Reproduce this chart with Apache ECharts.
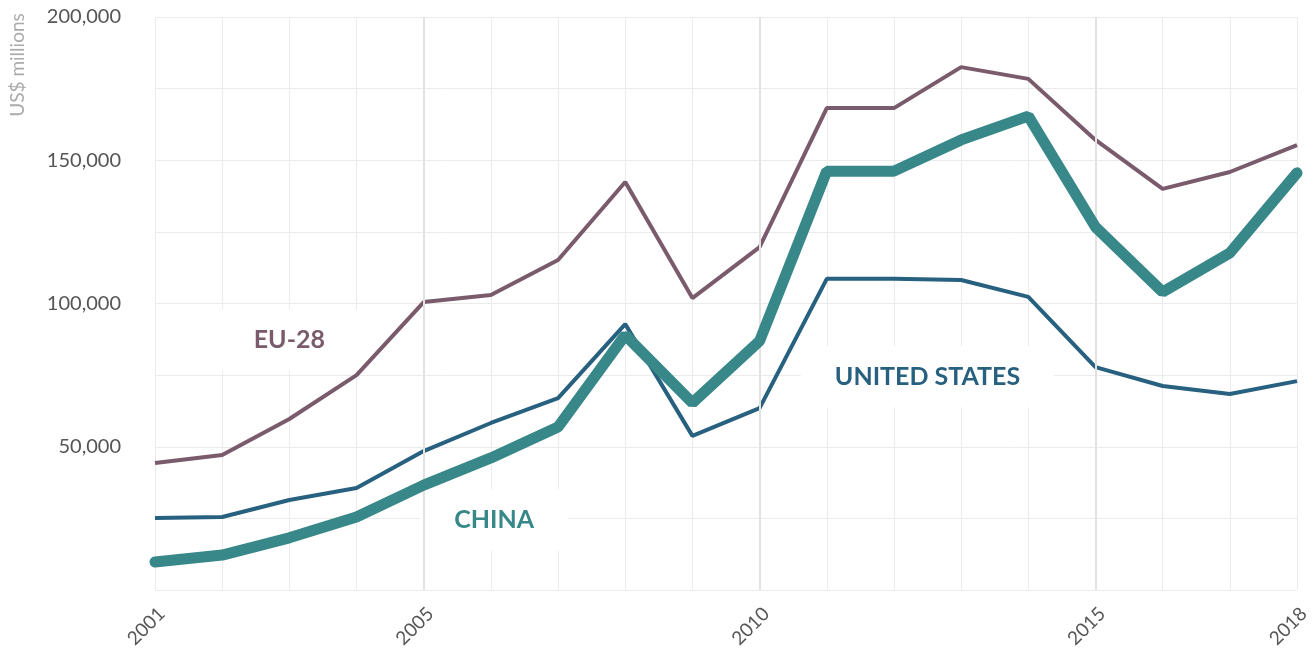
<!DOCTYPE html>
<html>
<head>
<meta charset="utf-8">
<title>EU-28, United States, China</title>
<script src="https://cdn.jsdelivr.net/npm/echarts@6/dist/echarts.min.js"></script>
<style>
    html, body { margin: 0; padding: 0; background: #fff; }
    #chart { width: 1314px; height: 653px; }
</style>
</head>
<body>
<div id="chart"></div>
<script>
// 数据
var years = [2001, 2002, 2003, 2004, 2005, 2006, 2007, 2008, 2009, 2010, 2011, 2012, 2013, 2014, 2015, 2016, 2017, 2018];
var eu28 = [44300, 47100, 59700, 75000, 100500, 103000, 115200, 142400, 101900, 119700, 168200, 168200, 182500, 178400, 157100, 140000, 145900, 155300];
var unitedStates = [25100, 25500, 31400, 35600, 48500, 58300, 67000, 92800, 53800, 63500, 108600, 108600, 108200, 102300, 77800, 71200, 68400, 72900];
var china = [9800, 12200, 18200, 25500, 36600, 46100, 56900, 89000, 65300, 86900, 146200, 146200, 157100, 165400, 126700, 104000, 117600, 145600];

var labelYears = [2001, 2005, 2010, 2015, 2018];   // x 轴显示的年份
var majorYears = [2005, 2010, 2015];               // 深色竖线

// 系列名称标签（数据坐标）
var tagNames = ['EU-28', 'UNITED STATES', 'CHINA'];
var tagX = [2003, 2012.5, 2006.05];
var tagY = [87300, 74400, 24400];

var colors = {eu: '#7a5b6b', us: '#27617f', cn: '#38888a'};
var tagColors = [colors.eu, colors.us, colors.cn];

function pairs(arr){
    return years.map(function(y, i){ return [y, arr[i]]; });
}

var myChart = echarts.init(document.getElementById('chart'));

var option = {
    animation: false,
    backgroundColor: '#fff',
    grid: {left: 155, right: 17, top: 17, bottom: 63},
    graphic: [{
        type: 'text',
        x: 18, y: 65,
        rotation: Math.PI / 2,
        style: {
            text: 'US$ millions',
            fill: '#ababab',
            font: '19px Lato',
            align: 'center',
            verticalAlign: 'middle'
        }
    }],
    xAxis: {
        type: 'value',
        min: 2001,
        max: 2018,
        interval: 1,
        axisLine: {show: false},
        axisTick: {show: false},
        splitLine: {show: true, lineStyle: {color: '#ebebeb', width: 1}},
        axisLabel: {
            rotate: 45,
            margin: 14,
            verticalAlign: 'top',
            color: '#555',
            fontSize: 19,
            fontFamily: 'Lato',
            showMinLabel: true,
            showMaxLabel: true,
            formatter: function(v){
                return labelYears.indexOf(v) > -1 ? String(v) : '';
            }
        }
    },
    yAxis: {
        type: 'value',
        min: 0,
        max: 200000,
        interval: 25000,
        axisLine: {show: false},
        axisTick: {show: false},
        splitLine: {show: true, lineStyle: {color: '#ebebeb', width: 1}},
        axisLabel: {
            margin: 34,
            color: '#555',
            fontSize: 20,
            fontFamily: 'Lato',
            formatter: function(v){
                if (v === 0 || v % 50000 !== 0) return '';
                return v.toLocaleString('en-US');
            }
        }
    },
    series: [
        {
            // 每五年深色竖线
            type: 'line',
            data: [],
            z: 1,
            silent: true,
            markLine: {
                silent: true,
                symbol: ['none', 'none'],
                label: {show: false},
                lineStyle: {color: '#e2e2e2', width: 2, type: 'solid'},
                data: majorYears.map(function(y){ return {xAxis: y}; })
            }
        },
        {
            name: 'EU-28',
            type: 'line',
            data: pairs(eu28),
            showSymbol: false,
            z: 3,
            lineStyle: {color: colors.eu, width: 4}
        },
        {
            name: 'United States',
            type: 'line',
            data: pairs(unitedStates),
            showSymbol: false,
            z: 4,
            lineStyle: {color: colors.us, width: 4}
        },
        {
            name: 'China',
            type: 'line',
            data: pairs(china),
            showSymbol: false,
            z: 5,
            lineStyle: {color: colors.cn, width: 11, cap: 'round'}
        },
        {
            // 系列名称，白底盖住网格线
            type: 'scatter',
            symbolSize: 0,
            z: 2,
            silent: true,
            itemStyle: {opacity: 1},
            data: tagNames.map(function(n, i){
                return {
                    name: n,
                    value: [tagX[i], tagY[i]],
                    label: {color: tagColors[i]}
                };
            }),
            label: {
                show: true,
                position: 'inside',
                formatter: '{b}',
                fontFamily: 'Lato',
                fontWeight: 'bold',
                fontSize: 25,
                backgroundColor: '#fff',
                padding: [18, 34]
            }
        }
    ]
};

myChart.setOption(option);
</script>
</body>
</html>
